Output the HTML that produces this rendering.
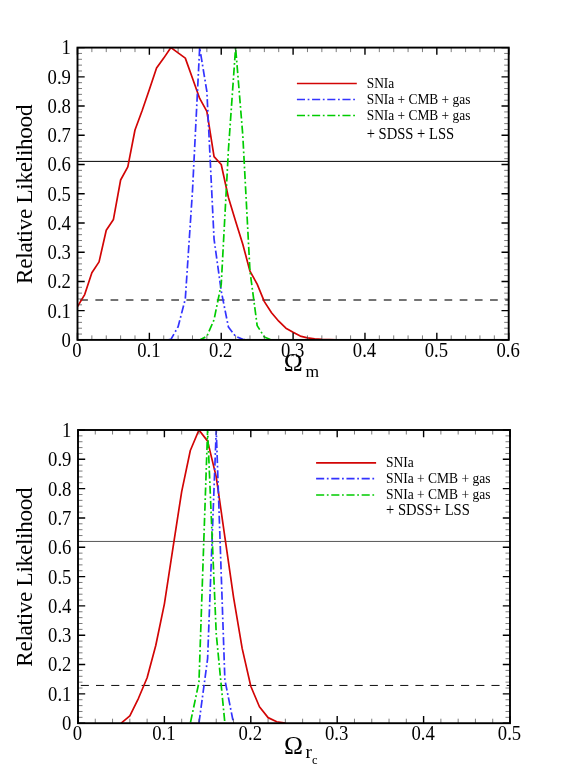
<!DOCTYPE html>
<html><head><meta charset="utf-8"><title>Relative Likelihood</title>
<style>html,body{margin:0;padding:0;background:#fff}svg{display:block;will-change:transform}</style></head>
<body>
<svg width="581" height="768" viewBox="0 0 581 768" font-family='"Liberation Serif", serif' fill="#000">
<defs><clipPath id="c1"><rect x="77.5" y="47.6" width="431.2" height="292.3"/></clipPath><clipPath id="c2"><rect x="78" y="430" width="432" height="293.2"/></clipPath></defs>
<rect width="581" height="768" fill="#fff"/>
<line x1="77.5" x2="508.7" y1="161.39" y2="161.39" stroke="#000" stroke-width="1.0"/>
<line x1="80.2" x2="508.7" y1="300" y2="300" stroke="#737373" stroke-width="2" stroke-dasharray="7.7 7.48"/>
<g clip-path="url(#c1)">
<polyline points="77.5,306.58 84.69,294.59 91.87,272.67 99.06,261.86 106.25,230.29 113.43,219.47 120.62,180.01 127.81,166.86 134.99,130.03 142.18,110.44 149.37,89.4 156.55,68.06 163.74,58.12 170.93,47.6 178.11,52.86 185.3,58.12 192.49,78.29 199.67,98.46 206.86,111.32 214.05,156.63 221.23,164.52 228.42,197.55 235.61,221.23 242.79,244.32 249.98,271.21 257.17,284.07 264.35,301.61 271.54,312.72 278.73,321.19 285.91,328.21 293.1,332.3 300.29,336.1 307.47,337.85 314.66,338.73 321.85,339.32 329.03,339.61 336.22,339.9" fill="none" stroke="#d20505" stroke-width="1.7" stroke-linejoin="round"/>
<polyline points="167.33,339.9 170.93,339.32 178.11,326.75 185.3,298.98 192.49,190.83 199.67,47.6 206.86,91.45 214.05,239.06 221.23,291.09 228.42,327.04 235.61,336.39 242.79,339.32 249.98,339.9" fill="none" stroke="#3333ff" stroke-width="1.7" stroke-linejoin="round" stroke-dasharray="8.1 2.65 1.75 2.68" stroke-dashoffset="13.6"/>
<polyline points="199.67,339.9 206.86,336.39 214.05,319.73 221.23,284.36 228.42,149.91 235.61,47.6 242.79,135.29 249.98,271.21 257.17,325.58 264.35,336.98 271.54,339.9" fill="none" stroke="#00cc00" stroke-width="1.7" stroke-linejoin="round" stroke-dasharray="8.1 2.65 1.75 2.68" stroke-dashoffset="1.8"/>
</g>
<path d="M91.87 339.9v-4.5M91.87 47.6v4.5M106.25 339.9v-4.5M106.25 47.6v4.5M120.62 339.9v-4.5M120.62 47.6v4.5M134.99 339.9v-4.5M134.99 47.6v4.5M163.74 339.9v-4.5M163.74 47.6v4.5M178.11 339.9v-4.5M178.11 47.6v4.5M192.49 339.9v-4.5M192.49 47.6v4.5M206.86 339.9v-4.5M206.86 47.6v4.5M235.61 339.9v-4.5M235.61 47.6v4.5M249.98 339.9v-4.5M249.98 47.6v4.5M264.35 339.9v-4.5M264.35 47.6v4.5M278.73 339.9v-4.5M278.73 47.6v4.5M307.47 339.9v-4.5M307.47 47.6v4.5M321.85 339.9v-4.5M321.85 47.6v4.5M336.22 339.9v-4.5M336.22 47.6v4.5M350.59 339.9v-4.5M350.59 47.6v4.5M379.34 339.9v-4.5M379.34 47.6v4.5M393.71 339.9v-4.5M393.71 47.6v4.5M408.09 339.9v-4.5M408.09 47.6v4.5M422.46 339.9v-4.5M422.46 47.6v4.5M451.21 339.9v-4.5M451.21 47.6v4.5M465.58 339.9v-4.5M465.58 47.6v4.5M479.95 339.9v-4.5M479.95 47.6v4.5M494.33 339.9v-4.5M494.33 47.6v4.5M77.5 334.05h4.5M508.7 334.05h-4.5M77.5 328.21h4.5M508.7 328.21h-4.5M77.5 322.36h4.5M508.7 322.36h-4.5M77.5 316.52h4.5M508.7 316.52h-4.5M77.5 304.82h4.5M508.7 304.82h-4.5M77.5 298.98h4.5M508.7 298.98h-4.5M77.5 293.13h4.5M508.7 293.13h-4.5M77.5 287.29h4.5M508.7 287.29h-4.5M77.5 275.59h4.5M508.7 275.59h-4.5M77.5 269.75h4.5M508.7 269.75h-4.5M77.5 263.9h4.5M508.7 263.9h-4.5M77.5 258.06h4.5M508.7 258.06h-4.5M77.5 246.36h4.5M508.7 246.36h-4.5M77.5 240.52h4.5M508.7 240.52h-4.5M77.5 234.67h4.5M508.7 234.67h-4.5M77.5 228.83h4.5M508.7 228.83h-4.5M77.5 217.13h4.5M508.7 217.13h-4.5M77.5 211.29h4.5M508.7 211.29h-4.5M77.5 205.44h4.5M508.7 205.44h-4.5M77.5 199.6h4.5M508.7 199.6h-4.5M77.5 187.9h4.5M508.7 187.9h-4.5M77.5 182.06h4.5M508.7 182.06h-4.5M77.5 176.21h4.5M508.7 176.21h-4.5M77.5 170.37h4.5M508.7 170.37h-4.5M77.5 158.67h4.5M508.7 158.67h-4.5M77.5 152.83h4.5M508.7 152.83h-4.5M77.5 146.98h4.5M508.7 146.98h-4.5M77.5 141.14h4.5M508.7 141.14h-4.5M77.5 129.44h4.5M508.7 129.44h-4.5M77.5 123.6h4.5M508.7 123.6h-4.5M77.5 117.75h4.5M508.7 117.75h-4.5M77.5 111.91h4.5M508.7 111.91h-4.5M77.5 100.21h4.5M508.7 100.21h-4.5M77.5 94.37h4.5M508.7 94.37h-4.5M77.5 88.52h4.5M508.7 88.52h-4.5M77.5 82.68h4.5M508.7 82.68h-4.5M77.5 70.98h4.5M508.7 70.98h-4.5M77.5 65.14h4.5M508.7 65.14h-4.5M77.5 59.29h4.5M508.7 59.29h-4.5M77.5 53.45h4.5M508.7 53.45h-4.5" stroke="#444" stroke-width="0.7" fill="none"/>
<path d="M77.5 339.9v-7.2M77.5 47.6v7.2M149.37 339.9v-7.2M149.37 47.6v7.2M221.23 339.9v-7.2M221.23 47.6v7.2M293.1 339.9v-7.2M293.1 47.6v7.2M364.97 339.9v-7.2M364.97 47.6v7.2M436.83 339.9v-7.2M436.83 47.6v7.2M508.7 339.9v-7.2M508.7 47.6v7.2M77.5 339.9h7.2M508.7 339.9h-7.2M77.5 310.67h7.2M508.7 310.67h-7.2M77.5 281.44h7.2M508.7 281.44h-7.2M77.5 252.21h7.2M508.7 252.21h-7.2M77.5 222.98h7.2M508.7 222.98h-7.2M77.5 193.75h7.2M508.7 193.75h-7.2M77.5 164.52h7.2M508.7 164.52h-7.2M77.5 135.29h7.2M508.7 135.29h-7.2M77.5 106.06h7.2M508.7 106.06h-7.2M77.5 76.83h7.2M508.7 76.83h-7.2M77.5 47.6h7.2M508.7 47.6h-7.2" stroke="#000" stroke-width="1.4" fill="none"/>
<rect x="77.5" y="47.6" width="431.2" height="292.3" fill="none" stroke="#000" stroke-width="1.9"/>
<text transform="translate(70.9 346.8) scale(1 1.07)" text-anchor="end" font-size="18.7">0</text>
<text transform="translate(70.9 317.57) scale(1 1.07)" text-anchor="end" font-size="18.7">0.1</text>
<text transform="translate(70.9 288.34) scale(1 1.07)" text-anchor="end" font-size="18.7">0.2</text>
<text transform="translate(70.9 259.11) scale(1 1.07)" text-anchor="end" font-size="18.7">0.3</text>
<text transform="translate(70.9 229.88) scale(1 1.07)" text-anchor="end" font-size="18.7">0.4</text>
<text transform="translate(70.9 200.65) scale(1 1.07)" text-anchor="end" font-size="18.7">0.5</text>
<text transform="translate(70.9 171.42) scale(1 1.07)" text-anchor="end" font-size="18.7">0.6</text>
<text transform="translate(70.9 142.19) scale(1 1.07)" text-anchor="end" font-size="18.7">0.7</text>
<text transform="translate(70.9 112.96) scale(1 1.07)" text-anchor="end" font-size="18.7">0.8</text>
<text transform="translate(70.9 83.73) scale(1 1.07)" text-anchor="end" font-size="18.7">0.9</text>
<text transform="translate(70.9 54.2) scale(1 1.07)" text-anchor="end" font-size="18.7">1</text>
<text transform="translate(77 357) scale(1 1.07)" text-anchor="middle" font-size="18.7">0</text>
<text transform="translate(148.87 357) scale(1 1.07)" text-anchor="middle" font-size="18.7">0.1</text>
<text transform="translate(220.73 357) scale(1 1.07)" text-anchor="middle" font-size="18.7">0.2</text>
<text transform="translate(292.6 357) scale(1 1.07)" text-anchor="middle" font-size="18.7">0.3</text>
<text transform="translate(364.47 357) scale(1 1.07)" text-anchor="middle" font-size="18.7">0.4</text>
<text transform="translate(436.33 357) scale(1 1.07)" text-anchor="middle" font-size="18.7">0.5</text>
<text transform="translate(508.2 357) scale(1 1.07)" text-anchor="middle" font-size="18.7">0.6</text>
<text transform="translate(32.0 194.35) rotate(-90)" text-anchor="middle" font-size="23.2" letter-spacing="-0.3">Relative Likelihood</text>
<line x1="78" x2="510" y1="541.45" y2="541.45" stroke="#444" stroke-width="0.9"/>
<line x1="80.8" x2="510" y1="685.44" y2="685.44" stroke="#000" stroke-width="0.95" stroke-dasharray="8.1 7.11"/>
<g clip-path="url(#c2)">
<polyline points="121.2,723.2 129.84,715.87 138.48,698.28 147.12,677.75 155.76,645.5 164.4,603.87 173.04,547.28 181.68,491.57 190.32,450.52 198.96,430 207.6,441.14 216.24,476.91 224.88,537.02 233.52,597.12 242.16,648.43 250.8,686.26 259.44,706.78 268.08,717.63 276.72,721.73 285.36,723.2" fill="none" stroke="#d20505" stroke-width="1.7" stroke-linejoin="round"/>
<polyline points="198.96,723.2 207.6,658.7 216.24,430 224.88,679.81 233.52,723.2" fill="none" stroke="#3333ff" stroke-width="1.7" stroke-linejoin="round" stroke-dasharray="8.1 2.65 1.75 2.68" stroke-dashoffset="14.95"/>
<polyline points="190.32,723.2 198.96,682.15 207.6,430 216.24,633.77 224.88,723.2" fill="none" stroke="#00cc00" stroke-width="1.7" stroke-linejoin="round" stroke-dasharray="8.1 2.65 1.75 2.68" stroke-dashoffset="14.3"/>
</g>
<path d="M95.28 723.2v-4.5M95.28 430v4.5M112.56 723.2v-4.5M112.56 430v4.5M129.84 723.2v-4.5M129.84 430v4.5M147.12 723.2v-4.5M147.12 430v4.5M181.68 723.2v-4.5M181.68 430v4.5M198.96 723.2v-4.5M198.96 430v4.5M216.24 723.2v-4.5M216.24 430v4.5M233.52 723.2v-4.5M233.52 430v4.5M268.08 723.2v-4.5M268.08 430v4.5M285.36 723.2v-4.5M285.36 430v4.5M302.64 723.2v-4.5M302.64 430v4.5M319.92 723.2v-4.5M319.92 430v4.5M354.48 723.2v-4.5M354.48 430v4.5M371.76 723.2v-4.5M371.76 430v4.5M389.04 723.2v-4.5M389.04 430v4.5M406.32 723.2v-4.5M406.32 430v4.5M440.88 723.2v-4.5M440.88 430v4.5M458.16 723.2v-4.5M458.16 430v4.5M475.44 723.2v-4.5M475.44 430v4.5M492.72 723.2v-4.5M492.72 430v4.5M78 717.34h4.5M510 717.34h-4.5M78 711.47h4.5M510 711.47h-4.5M78 705.61h4.5M510 705.61h-4.5M78 699.74h4.5M510 699.74h-4.5M78 688.02h4.5M510 688.02h-4.5M78 682.15h4.5M510 682.15h-4.5M78 676.29h4.5M510 676.29h-4.5M78 670.42h4.5M510 670.42h-4.5M78 658.7h4.5M510 658.7h-4.5M78 652.83h4.5M510 652.83h-4.5M78 646.97h4.5M510 646.97h-4.5M78 641.1h4.5M510 641.1h-4.5M78 629.38h4.5M510 629.38h-4.5M78 623.51h4.5M510 623.51h-4.5M78 617.65h4.5M510 617.65h-4.5M78 611.78h4.5M510 611.78h-4.5M78 600.06h4.5M510 600.06h-4.5M78 594.19h4.5M510 594.19h-4.5M78 588.33h4.5M510 588.33h-4.5M78 582.46h4.5M510 582.46h-4.5M78 570.74h4.5M510 570.74h-4.5M78 564.87h4.5M510 564.87h-4.5M78 559.01h4.5M510 559.01h-4.5M78 553.14h4.5M510 553.14h-4.5M78 541.42h4.5M510 541.42h-4.5M78 535.55h4.5M510 535.55h-4.5M78 529.69h4.5M510 529.69h-4.5M78 523.82h4.5M510 523.82h-4.5M78 512.1h4.5M510 512.1h-4.5M78 506.23h4.5M510 506.23h-4.5M78 500.37h4.5M510 500.37h-4.5M78 494.5h4.5M510 494.5h-4.5M78 482.78h4.5M510 482.78h-4.5M78 476.91h4.5M510 476.91h-4.5M78 471.05h4.5M510 471.05h-4.5M78 465.18h4.5M510 465.18h-4.5M78 453.46h4.5M510 453.46h-4.5M78 447.59h4.5M510 447.59h-4.5M78 441.73h4.5M510 441.73h-4.5M78 435.86h4.5M510 435.86h-4.5" stroke="#444" stroke-width="0.7" fill="none"/>
<path d="M78 723.2v-7.2M78 430v7.2M164.4 723.2v-7.2M164.4 430v7.2M250.8 723.2v-7.2M250.8 430v7.2M337.2 723.2v-7.2M337.2 430v7.2M423.6 723.2v-7.2M423.6 430v7.2M510 723.2v-7.2M510 430v7.2M78 723.2h7.2M510 723.2h-7.2M78 693.88h7.2M510 693.88h-7.2M78 664.56h7.2M510 664.56h-7.2M78 635.24h7.2M510 635.24h-7.2M78 605.92h7.2M510 605.92h-7.2M78 576.6h7.2M510 576.6h-7.2M78 547.28h7.2M510 547.28h-7.2M78 517.96h7.2M510 517.96h-7.2M78 488.64h7.2M510 488.64h-7.2M78 459.32h7.2M510 459.32h-7.2M78 430h7.2M510 430h-7.2" stroke="#000" stroke-width="1.4" fill="none"/>
<rect x="78" y="430" width="432" height="293.2" fill="none" stroke="#000" stroke-width="1.9"/>
<text transform="translate(71.4 730.1) scale(1 1.07)" text-anchor="end" font-size="18.7">0</text>
<text transform="translate(71.4 700.78) scale(1 1.07)" text-anchor="end" font-size="18.7">0.1</text>
<text transform="translate(71.4 671.46) scale(1 1.07)" text-anchor="end" font-size="18.7">0.2</text>
<text transform="translate(71.4 642.14) scale(1 1.07)" text-anchor="end" font-size="18.7">0.3</text>
<text transform="translate(71.4 612.82) scale(1 1.07)" text-anchor="end" font-size="18.7">0.4</text>
<text transform="translate(71.4 583.5) scale(1 1.07)" text-anchor="end" font-size="18.7">0.5</text>
<text transform="translate(71.4 554.18) scale(1 1.07)" text-anchor="end" font-size="18.7">0.6</text>
<text transform="translate(71.4 524.86) scale(1 1.07)" text-anchor="end" font-size="18.7">0.7</text>
<text transform="translate(71.4 495.54) scale(1 1.07)" text-anchor="end" font-size="18.7">0.8</text>
<text transform="translate(71.4 466.22) scale(1 1.07)" text-anchor="end" font-size="18.7">0.9</text>
<text transform="translate(71.4 436.6) scale(1 1.07)" text-anchor="end" font-size="18.7">1</text>
<text transform="translate(77.5 740.3) scale(1 1.07)" text-anchor="middle" font-size="18.7">0</text>
<text transform="translate(163.9 740.3) scale(1 1.07)" text-anchor="middle" font-size="18.7">0.1</text>
<text transform="translate(250.3 740.3) scale(1 1.07)" text-anchor="middle" font-size="18.7">0.2</text>
<text transform="translate(336.7 740.3) scale(1 1.07)" text-anchor="middle" font-size="18.7">0.3</text>
<text transform="translate(423.1 740.3) scale(1 1.07)" text-anchor="middle" font-size="18.7">0.4</text>
<text transform="translate(509.5 740.3) scale(1 1.07)" text-anchor="middle" font-size="18.7">0.5</text>
<text transform="translate(32.0 577.2) rotate(-90)" text-anchor="middle" font-size="23.2" letter-spacing="-0.3">Relative Likelihood</text>
<line x1="296.9" x2="356.8" y1="83.5" y2="83.5" stroke="#d20505" stroke-width="1.7"/>
<line x1="296.9" x2="355.2" y1="99.5" y2="99.5" stroke="#3333ff" stroke-width="1.7" stroke-dasharray="8.1 2.65 1.75 2.68"/>
<line x1="296.9" x2="355.2" y1="115.5" y2="115.5" stroke="#00cc00" stroke-width="1.7" stroke-dasharray="8.1 2.65 1.75 2.68"/>
<text transform="translate(366.7 88) scale(1 1.08)" font-size="13.4">SNIa</text>
<text transform="translate(366.7 104) scale(1 1.08)" font-size="13.4">SNIa + CMB + gas</text>
<text transform="translate(366.7 120) scale(1 1.08)" font-size="13.4">SNIa + CMB + gas</text>
<text transform="translate(366.7 139) scale(1 1.08)" font-size="14.6">+ SDSS + LSS</text>
<line x1="316.1" x2="376.1" y1="462.9" y2="462.9" stroke="#d20505" stroke-width="1.7"/>
<line x1="316.1" x2="374.3" y1="478.7" y2="478.7" stroke="#3333ff" stroke-width="1.7" stroke-dasharray="8.1 2.65 1.75 2.68"/>
<line x1="316.1" x2="374.3" y1="495.0" y2="495.0" stroke="#00cc00" stroke-width="1.7" stroke-dasharray="8.1 2.65 1.75 2.68"/>
<text transform="translate(386.0 467) scale(1 1.08)" font-size="13.5">SNIa</text>
<text transform="translate(386.0 483) scale(1 1.08)" font-size="13.5">SNIa + CMB + gas</text>
<text transform="translate(386.0 499) scale(1 1.08)" font-size="13.5">SNIa + CMB + gas</text>
<text transform="translate(386.0 515) scale(1 1.08)" font-size="14.6">+ SDSS+ LSS</text>
<text transform="translate(283.8 370.9) scale(1.215 1.15)" font-size="21">Ω</text>
<text x="292.5" y="358" text-anchor="middle" font-size="18.7" fill="#fff">.</text>
<text x="305.6" y="376.8" font-size="17.5">m</text>
<text transform="translate(284.0 754.1) scale(1.215 1.15)" font-size="21">Ω</text>
<text x="305.4" y="757.7" font-size="19.3">r</text>
<text x="312.0" y="763.6" font-size="12.5">c</text>
</svg>
</body></html>
